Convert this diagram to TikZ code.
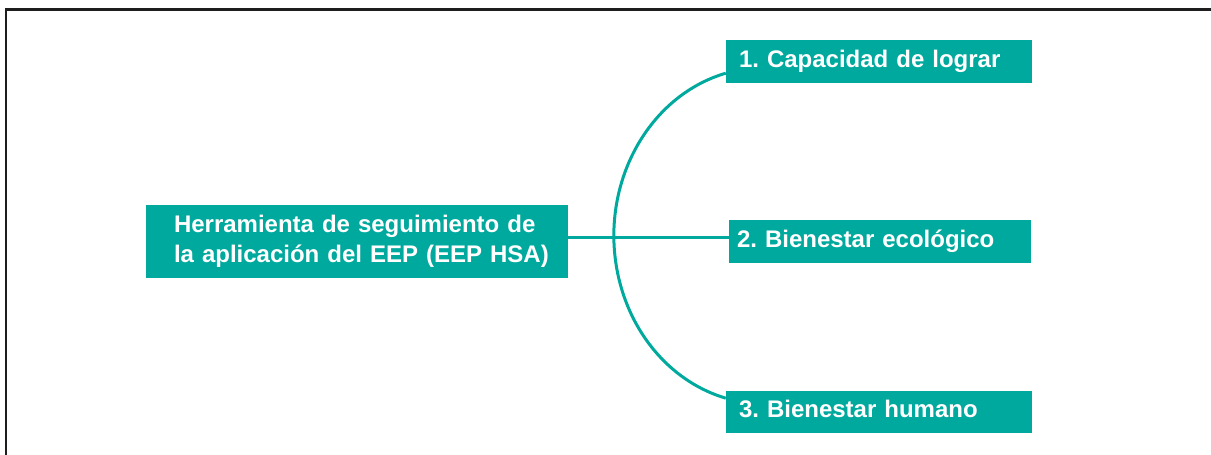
\documentclass[tikz,border=0pt]{standalone}
\usepackage{fontspec}
\setmainfont{Liberation Sans}
\definecolor{teal1}{RGB}{0,169,157}
\definecolor{frame1}{RGB}{30,30,30}
\begin{document}
\frenchspacing
\begin{tikzpicture}[x=1pt,y=1pt,
  box/.style={fill=teal1, text=white, font=\fontsize{24}{30}\selectfont\bfseries\frenchspacing, align=left, inner ysep=0pt, anchor=center},
  link/.style={draw=teal1, line width=3pt}]
\useasboundingbox (0,0) rectangle (1211,455);
\draw[frame1, line width=2.4pt] (6,0) -- (6,445.5) -- (1211,445.5);
\node[box, text width=366pt, inner xsep=28pt, minimum height=73pt] (main) at (357,213.5) {\mbox{Herramienta de seguimiento de}\\\mbox{la aplicación del EEP (EEP HSA)}};
\node[box, text width=280pt, inner xsep=13pt, minimum height=43pt, text height=17pt, text depth=5pt] (b1) at (879,393.5) {\mbox{1. Capacidad de lograr}};
\node[box, text width=286pt, inner xsep=8pt, minimum height=43pt, text height=17pt, text depth=5pt] (b2) at (880,213.5) {\mbox{2. Bienestar ecológico}};
\node[box, text width=280pt, inner xsep=13pt, minimum height=42pt, text height=17pt, text depth=5pt] (b3) at (879,43) {\mbox{3. Bienestar humano}};
\draw[link] ([yshift=3.5pt]main.east) -- ([yshift=3.5pt]b2.west);
\draw[link] ([yshift=10pt]b1.south west) arc[start angle=104.7, end angle=255.3, x radius=150, y radius=168];
\end{tikzpicture}
\end{document}
